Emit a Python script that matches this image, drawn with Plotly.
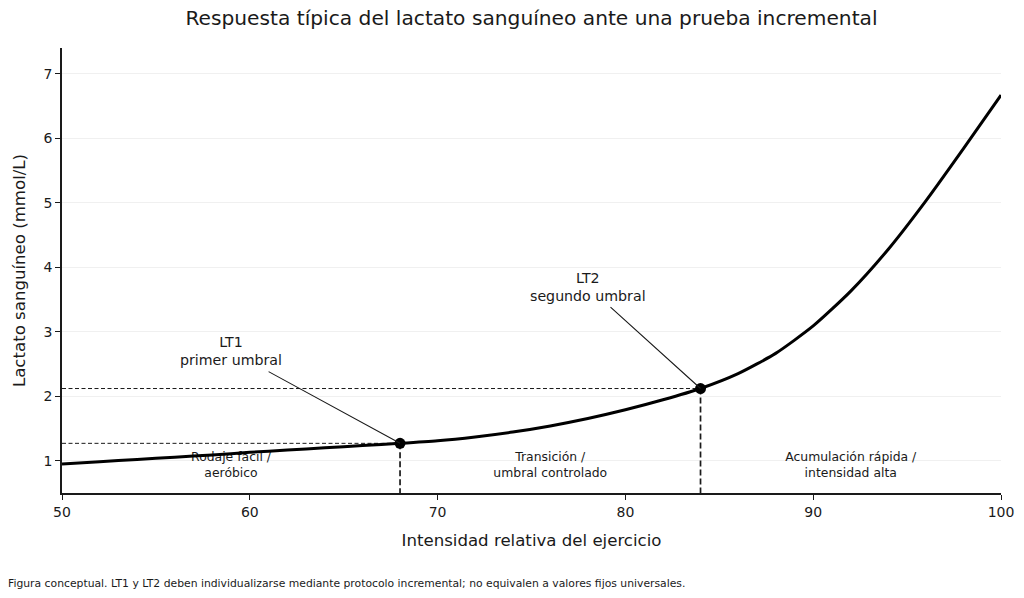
import plotly.graph_objects as go

# Data
intensity = [50, 52, 54, 56, 58, 60, 62, 64, 66, 68, 70, 72, 74, 76, 78, 80, 82, 84, 86, 88, 90, 92, 94, 96, 98, 100]
lactate = [0.95, 0.985, 1.02, 1.055, 1.09, 1.13, 1.165, 1.20, 1.235, 1.27, 1.31, 1.37, 1.445, 1.54, 1.655, 1.79, 1.945, 2.12, 2.35, 2.665, 3.09, 3.63, 4.28, 5.03, 5.84, 6.67]

thr_names = ["LT1", "LT2"]
thr_labels = ["LT1<br>primer umbral", "LT2<br>segundo umbral"]
thr_x = [68, 84]
thr_y = [1.27, 2.12]
thr_text_x = [59, 78]
thr_text_y = [2.7, 3.7]

zone_labels = ["Rodaje fácil /<br>aeróbico", "Transición /<br>umbral controlado", "Acumulación rápida /<br>intensidad alta"]
zone_x = [59, 76, 92]
zone_y = [0.92, 0.92, 0.92]

x_ticks = [50, 60, 70, 80, 90, 100]
y_ticks = [1, 2, 3, 4, 5, 6, 7]
x_range = [50, 100]
y_range = [0.5, 7.4]

FONT = "DejaVu Sans"
INK = "#1a1a1a"

fig = go.Figure()

# Zone labels (drawn beneath the curve)
fig.add_trace(go.Scatter(
    x=zone_x, y=zone_y, mode="text", text=zone_labels,
    textfont=dict(family=FONT, size=12.4, color=INK),
    hoverinfo="skip", showlegend=False,
))

# Dashed reference lines
for tx, ty in zip(thr_x, thr_y):
    fig.add_trace(go.Scatter(
        x=[x_range[0], tx], y=[ty, ty], mode="lines",
        line=dict(color=INK, width=1, dash="4px,2.5px"),
        hoverinfo="skip", showlegend=False,
    ))
    fig.add_trace(go.Scatter(
        x=[tx, tx], y=[ty, y_range[0]], mode="lines",
        line=dict(color=INK, width=1.7, dash="6px,3px"),
        hoverinfo="skip", showlegend=False,
    ))

# Lactate curve
fig.add_trace(go.Scatter(
    x=intensity, y=lactate, mode="lines",
    line=dict(color="black", width=3, shape="spline", smoothing=0.6),
    showlegend=False,
))

# Threshold points
fig.add_trace(go.Scatter(
    x=thr_x, y=thr_y, mode="markers",
    marker=dict(color="black", size=11),
    showlegend=False,
))

annotations = []
for lab, tx, ty, ax, ay in zip(thr_labels, thr_x, thr_y, thr_text_x, thr_text_y):
    annotations.append(dict(
        x=tx, y=ty, xref="x", yref="y",
        ax=ax, ay=ay, axref="x", ayref="y",
        text=lab, showarrow=True, arrowhead=0, arrowwidth=1.1,
        arrowcolor=INK, standoff=0, borderpad=3,
        font=dict(family=FONT, size=14.2, color=INK),
        align="center",
    ))

annotations.append(dict(
    x=(6 - 62) / (1001 - 62), y=(493 - 583) / (493 - 48), xref="paper", yref="paper",
    text="Figura conceptual. LT1 y LT2 deben individualizarse mediante protocolo incremental; no equivalen a valores fijos universales.",
    showarrow=False, font=dict(family=FONT, size=10.8, color=INK),
    xanchor="left", yanchor="middle",
))

fig.update_layout(
    width=1024, height=598,
    margin=dict(l=62, r=23, t=48, b=105, autoexpand=False),
    paper_bgcolor="white", plot_bgcolor="white",
    font=dict(family=FONT, color=INK),
    title=dict(
        text="Respuesta típica del lactato sanguíneo ante una prueba incremental",
        x=(62 + 1001) / 2 / 1024, xanchor="center", y=1 - 18 / 598, yanchor="middle",
        font=dict(family=FONT, size=20.2, color=INK),
    ),
    annotations=annotations,
)

fig.update_xaxes(
    range=x_range, tickvals=x_ticks, showgrid=False, zeroline=False, automargin=False,
    showline=True, linecolor=INK, linewidth=1.6,
    ticks="outside", ticklen=5, tickwidth=1.2, tickcolor=INK,
    tickfont=dict(family=FONT, size=14, color=INK),
    title=dict(text="Intensidad relativa del ejercicio", font=dict(family=FONT, size=16.6, color=INK), standoff=16),
)
fig.update_yaxes(
    range=y_range, tickvals=y_ticks, showgrid=True, gridcolor="#f0f0f0", gridwidth=1,
    zeroline=False, automargin=False, showline=True, linecolor=INK, linewidth=1.6,
    ticks="outside", ticklen=5, tickwidth=1.2, tickcolor=INK,
    tickfont=dict(family=FONT, size=14, color=INK),
    title=dict(text="Lactato sanguíneo (mmol/L)", font=dict(family=FONT, size=16.6, color=INK), standoff=14),
)

fig.write_html("out.html")
